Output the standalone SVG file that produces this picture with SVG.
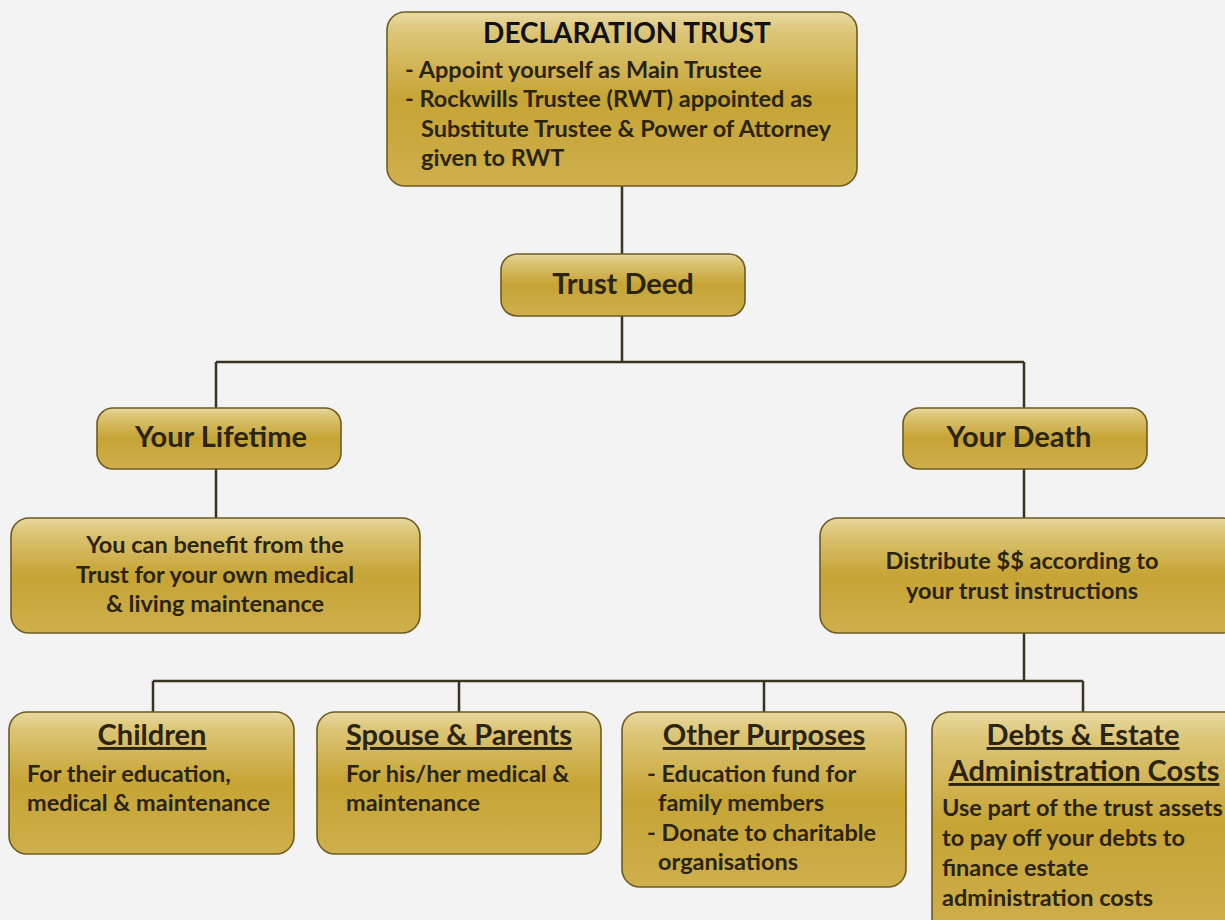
<svg xmlns="http://www.w3.org/2000/svg" width="1225" height="920" viewBox="0 0 1225 920">
<defs>
<linearGradient id="gold" x1="0" y1="0" x2="0" y2="1">
<stop offset="0" stop-color="#e8d9a0"/>
<stop offset="0.12" stop-color="#dcc577"/>
<stop offset="0.45" stop-color="#c9a83d"/>
<stop offset="0.5" stop-color="#c6a435"/>
<stop offset="0.85" stop-color="#cbab45"/>
<stop offset="1" stop-color="#cfb04c"/>
</linearGradient>
<style>
.box{fill:url(#gold);stroke:#6e5b22;stroke-width:1.6}
.line{stroke:#3b3320;stroke-width:2.5;fill:none}
text{font-family:Lato,"Open Sans","Liberation Sans",sans-serif;font-weight:700;fill:#2a2410}
.title{font-size:29px;text-anchor:middle}
.body{font-size:23.5px}
.dbody{font-size:23.5px}
.c{text-anchor:middle}
.hdr{font-size:29px;text-anchor:middle;text-decoration:underline}
.top{fill:#111;font-size:28px}
</style>
</defs>
<rect x="0" y="0" width="1225" height="920" fill="#f3f3f3"/>
<g id="connectors">
<path class="line" d="M622 186V254M622 316V362M216 362H1024M216 362V408M1024 362V408M216 469V518M1024 469V518M1024 633V681M153 681H1083M153 681V712M459 681V712M764 681V712M1083 681V712"/>
</g>
<g id="declaration">
<rect class="box" x="387" y="12" width="470" height="174" rx="18"/>
<text class="title top" x="627" y="43">DECLARATION TRUST</text>
<text class="dbody" x="405" y="78">- Appoint yourself as Main Trustee</text>
<text class="dbody" x="405" y="107">- Rockwills Trustee (RWT) appointed as</text>
<text class="dbody" x="421" y="137">Substitute Trustee &amp; Power of Attorney</text>
<text class="dbody" x="421" y="166">given to RWT</text>
</g>
<g id="trustdeed">
<rect class="box" x="501" y="254" width="244" height="62" rx="16"/>
<text class="title" x="623" y="294">Trust Deed</text>
</g>
<g id="lifetime">
<rect class="box" x="97" y="408" width="244" height="61" rx="16"/>
<text class="title" x="221" y="447">Your Lifetime</text>
</g>
<g id="death">
<rect class="box" x="903" y="408" width="244" height="61" rx="16"/>
<text class="title" x="1019" y="447">Your Death</text>
</g>
<g id="lifetime-desc">
<rect class="box" x="11" y="518" width="409" height="115" rx="18"/>
<text class="body c" x="215" y="553">You can benefit from the</text>
<text class="body c" x="215" y="583">Trust for your own medical</text>
<text class="body c" x="215" y="612">&amp; living maintenance</text>
</g>
<g id="death-desc">
<rect class="box" x="820" y="518" width="420" height="115" rx="18"/>
<text class="body c" x="1022" y="569">Distribute $$ according to</text>
<text class="body c" x="1022" y="599">your trust instructions</text>
</g>
<g id="children">
<rect class="box" x="9" y="712" width="285" height="142" rx="18"/>
<text class="hdr" x="152" y="745">Children</text>
<text class="body" x="27" y="782">For their education,</text>
<text class="body" x="27" y="811">medical &amp; maintenance</text>
</g>
<g id="spouse">
<rect class="box" x="317" y="712" width="284" height="142" rx="18"/>
<text class="hdr" x="459" y="745">Spouse &amp; Parents</text>
<text class="body" x="346" y="782">For his/her medical &amp;</text>
<text class="body" x="346" y="811">maintenance</text>
</g>
<g id="other">
<rect class="box" x="622" y="712" width="284" height="175" rx="18"/>
<text class="hdr" x="764" y="745">Other Purposes</text>
<text class="body" x="647" y="782">- Education fund for</text>
<text class="body" x="658" y="811">family members</text>
<text class="body" x="647" y="841">- Donate to charitable</text>
<text class="body" x="658" y="870">organisations</text>
</g>
<g id="debts">
<rect class="box" x="932" y="712" width="310" height="225" rx="18"/>
<text class="hdr" x="1083" y="745">Debts &amp; Estate</text>
<text class="hdr" x="1084" y="781">Administration Costs</text>
<text class="body" x="942" y="816">Use part of the trust assets</text>
<text class="body" x="942" y="846">to pay off your debts to</text>
<text class="body" x="942" y="876">finance estate</text>
<text class="body" x="942" y="906">administration costs</text>
</g>
</svg>
